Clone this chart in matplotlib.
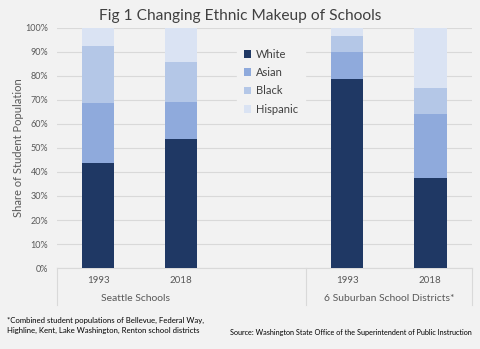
import matplotlib.pyplot as plt
import numpy as np

# Data (share of student population, %)
years = ['1993', '2018', '', '1993', '2018']
groups = ['Seattle Schools', '6 Suburban School Districts*']
white = [43.6, 53.7, 0, 78.6, 37.4]
asian = [25.3, 15.6, 0, 11.3, 26.6]
black = [23.6, 16.7, 0, 6.6, 11.0]
hispanic = [7.5, 14.0, 0, 3.5, 25.0]
series_names = ['White', 'Asian', 'Black', 'Hispanic']
colors = ['#1F3864', '#8FAADC', '#B4C7E7', '#DAE3F3']

bg = '#F2F2F2'
plt.rcParams['font.family'] = ['Lato', 'DejaVu Sans']

fig = plt.figure(figsize=(4.8, 3.49), dpi=100, facecolor=bg)
ax = fig.add_axes([0.118, 0.232, 0.865, 0.688])
ax.set_facecolor(bg)

x = np.arange(len(years))
bottom = np.zeros(len(years))
for vals, name, c in zip([white, asian, black, hispanic], series_names, colors):
    ax.bar(x, vals, 0.39, bottom=bottom, color=c, label=name, zorder=3)
    bottom += np.array(vals)

ax.set_xlim(-0.5, 4.5)
ax.set_ylim(0, 100)
ax.set_yticks(np.arange(0, 101, 10))
ax.set_yticklabels([f'{v}%' for v in range(0, 101, 10)], fontsize=6.5, color='#595959')
ax.yaxis.grid(True, color='#D9D9D9', linewidth=0.8, zorder=0)
ax.tick_params(axis='y', length=0, pad=6)
ax.tick_params(axis='x', length=0, pad=6)
ax.set_xticks(x)
ax.set_xticklabels(years, fontsize=7, color='#595959')
for s in ['top', 'right', 'left']:
    ax.spines[s].set_visible(False)
ax.spines['bottom'].set_color('#D9D9D9')

ax.set_ylabel('Share of Student Population', fontsize=8, color='#595959', labelpad=1)

# group separators and labels
for xs in [-0.5, 2.5, 4.5]:
    ax.plot([xs, xs], [0, -15.5], color='#D9D9D9', linewidth=0.8, clip_on=False)
ax.text(0.45, -12.5, groups[0], ha='center', va='center', fontsize=7.5, color='#595959')
ax.text(3.5, -12.5, groups[1], ha='center', va='center', fontsize=7.5, color='#595959')

leg = ax.legend(loc='upper left', bbox_to_anchor=(0.482, 0.895), bbox_transform=fig.transFigure,
                frameon=True, facecolor=bg, edgecolor=bg, framealpha=1, fontsize=8,
                handlelength=0.7, handleheight=0.7, handletextpad=0.4, labelspacing=0.65,
                borderpad=0.6)
for t in leg.get_texts():
    t.set_color('#404040')

fig.text(0.5, 0.953, 'Fig 1 Changing Ethnic Makeup of Schools', ha='center', va='center',
         fontsize=11.2, color='#404040')
fig.text(0.015, 0.068, '*Combined student populations of Bellevue, Federal Way,\n'
         'Highline, Kent, Lake Washington, Renton school districts',
         ha='left', va='center', fontsize=5.6, color='#000000', linespacing=1.5)
fig.text(0.983, 0.046, 'Source: Washington State Office of the Superintendent of Public Instruction',
         ha='right', va='center', fontsize=5.2, color='#000000')

fig.savefig('out.png', dpi=100, facecolor=bg)
